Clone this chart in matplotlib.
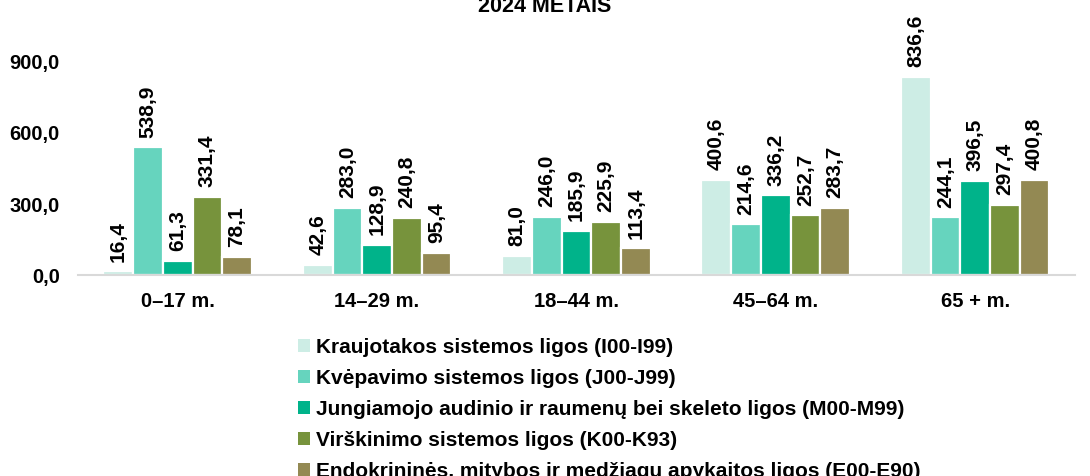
import numpy as np
import matplotlib.pyplot as plt
from matplotlib.patches import Patch

plt.rcParams['font.family'] = ['Liberation Sans', 'DejaVu Sans']
plt.rcParams['font.weight'] = 'bold'

groups = ['0–17 m.', '14–29 m.', '18–44 m.', '45–64 m.', '65 + m.']
series = [
    'Kraujotakos sistemos ligos (I00-I99)',
    'Kvėpavimo sistemos ligos (J00-J99)',
    'Jungiamojo audinio ir raumenų bei skeleto ligos (M00-M99)',
    'Virškinimo sistemos ligos (K00-K93)',
    'Endokrininės, mitybos ir medžiagų apykaitos ligos (E00-E90)',
]
kraujotakos = [16.4, 42.6, 81.0, 400.6, 836.6]
kvepavimo = [538.9, 283.0, 246.0, 214.6, 244.1]
jungiamojo = [61.3, 128.9, 185.9, 336.2, 396.5]
virskinimo = [331.4, 240.8, 225.9, 252.7, 297.4]
endokrinines = [78.1, 95.4, 113.4, 283.7, 400.8]
values = [kraujotakos, kvepavimo, jungiamojo, virskinimo, endokrinines]
colors = ['#CDEDE5', '#66D4BE', '#00B38A', '#77933C', '#938953']

fig = plt.figure(figsize=(10.9, 4.76), dpi=100)
ax = fig.add_axes([0.0716, 0.422, 0.9144, 0.448])

x = np.arange(len(groups))
w = 0.149
for i, (vals, c) in enumerate(zip(values, colors)):
    pos = x + (i - 2) * w
    ax.bar(pos, vals, width=w, color=c, edgecolor='white', linewidth=1.6)
    for p, v in zip(pos, vals):
        ax.annotate(f'{v:.1f}'.replace('.', ','), (p, v), xytext=(0, 7),
                    textcoords='offset points', rotation=90,
                    ha='center', va='bottom', fontsize=15, fontweight='bold',
                    annotation_clip=False)

ax.set_xlim(-0.5, 4.5)
ax.set_ylim(0, 900)
ax.set_yticks([0, 300, 600, 900])
ax.set_yticklabels([f'{t:.1f}'.replace('.', ',') for t in [0, 300, 600, 900]])
ax.set_xticks(x)
ax.set_xticklabels(groups)
ax.tick_params(axis='both', length=0, labelsize=14.5)
ax.tick_params(axis='x', pad=12)
ax.tick_params(axis='y', pad=13)
for s in ['top', 'right', 'left']:
    ax.spines[s].set_visible(False)
ax.spines['bottom'].set_color('#D9D9D9')
ax.spines['bottom'].set_linewidth(1.5)

fig.text(0.5, 1 - 12 / 476, '2024 METAIS', ha='center', va='baseline',
         fontsize=15.5, fontweight='bold')

handles = [Patch(facecolor=c, edgecolor='none') for c in colors]
fig.legend(handles, series, loc='upper left', bbox_to_anchor=(0.273, 0.29),
           ncol=1, frameon=False, fontsize=15, handlelength=0.58,
           handleheight=0.58, handletextpad=0.3, labelspacing=0.58,
           borderaxespad=0, borderpad=0)

fig.savefig('out.png', dpi=100)
